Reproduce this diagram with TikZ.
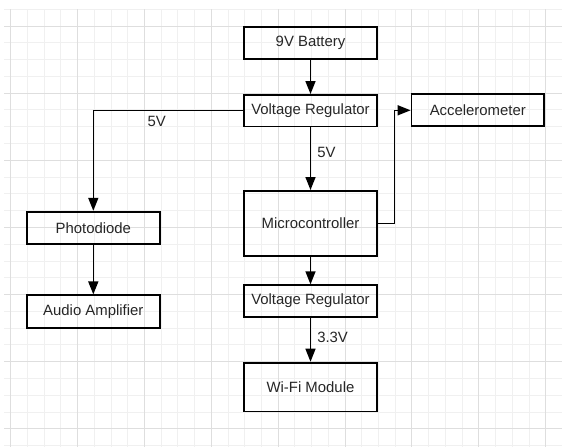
\documentclass[tikz,border=0pt]{standalone}
\usepackage{fontspec}
\setmainfont{Liberation Sans}
\usetikzlibrary{arrows.meta}

\newcommand*{\cellw}{16.72}
\newcommand*{\cellh}{16.78}
\newcommand*{\gridx}{10.7}
\newcommand*{\gridy}{9.3}

\begin{document}
\begin{tikzpicture}
[
	x=1pt, y=-1pt,
	block/.style={draw,line width=1.8pt,inner sep=0pt,minimum width=132.6pt,minimum height=32pt,font=\fontsize{14.9}{18}\selectfont,text=black!85},
	link/.style={line width=1.5pt,-{Triangle[length=13pt,width=10pt]}},
	volt/.style={font=\fontsize{14.9}{18}\selectfont,text=black!85,inner sep=6pt},
	minorline/.style={black!6,line width=1pt},
	majorline/.style={black!13,line width=1pt}
]

	\useasboundingbox (0,0) rectangle (562,447);

	% grid
	\foreach \k in {0,...,26} {
		\draw[minorline] (4,{\gridy+\k*\cellh}) -- (562,{\gridy+\k*\cellh});
	}
	\foreach \k in {0,...,32} {
		\draw[minorline] ({\gridx+\k*\cellw},\gridy) -- ({\gridx+\k*\cellw},447);
	}
	\foreach \k in {0,...,6} {
		\draw[majorline] (4,{\gridy+\cellh+4*\k*\cellh}) -- (562,{\gridy+\cellh+4*\k*\cellh});
	}
	\foreach \k in {0,...,8} {
		\draw[majorline] ({\gridx+4*\k*\cellw},\gridy) -- ({\gridx+4*\k*\cellw},447);
	}

	% blocks
	\node[block] (battery) at (310.5,43) {9V Battery};
	\node[block,minimum height=31.5pt] (vreg) at (310.5,110.7) {Voltage Regulator};
	\node[block] (accel) at (477.8,110.3) {Accelerometer};
	\node[block,minimum height=64.8pt] (mcu) at (310.5,223.3) {Microcontroller};
	\node[block,minimum height=31.5pt] (vregb) at (310.5,301) {Voltage Regulator};
	\node[block,minimum height=48.8pt] (wifi) at (310.5,387) {Wi-Fi Module};
	\node[block] (photo) at (93.3,227.7) {Photodiode};
	\node[block,minimum height=32.4pt] (amp) at (93.3,311.5) {Audio Amplifier};

	% connectors
	\draw[link] (battery) -- (vreg);
	\draw[link] (vreg) -- node[volt,right,pos=0.4] {5V} (mcu);
	\draw[link] (mcu) -- (vregb);
	\draw[link] (vregb) -- node[volt,right,pos=0.45] {3.3V} (wifi);
	\draw[link] (photo) -- (amp);
	\draw[link] (vreg.west) -- node[volt,below,inner sep=5pt,pos=0.577] {5V} (vreg.west -| photo.north) -- (photo.north);
	\coordinate (bend) at (394.3,223.3);
	\draw[link] (mcu.east) -- (bend) |- (accel.west);

\end{tikzpicture}
\end{document}
